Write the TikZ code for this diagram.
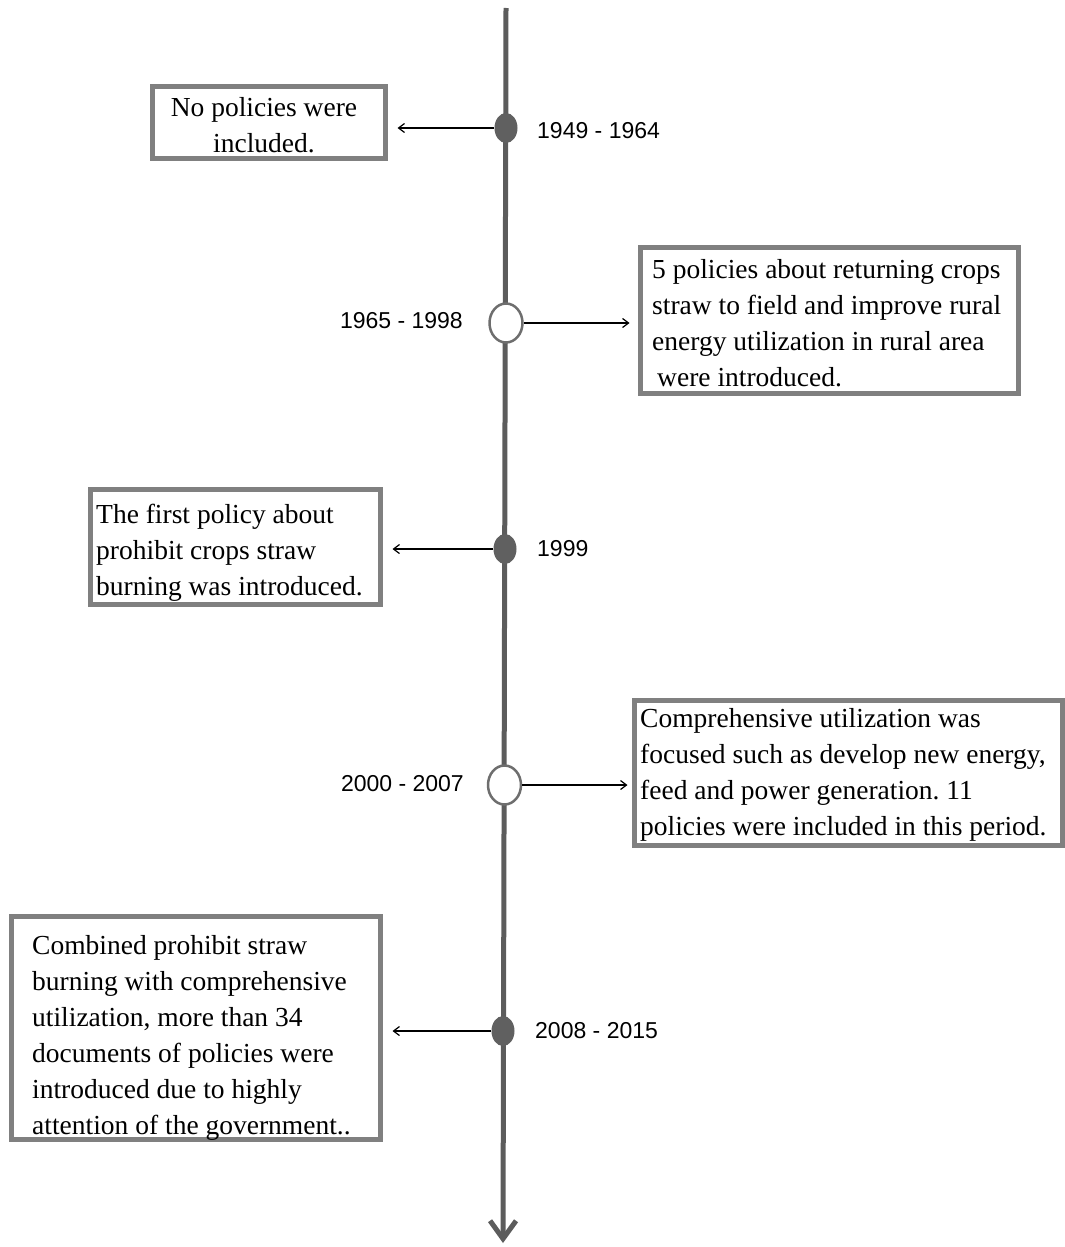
\documentclass[tikz,border=0pt]{standalone}
\usepackage{fontspec}
\setmainfont{Liberation Serif}
\newfontfamily\labfont{Liberation Sans}
\usetikzlibrary{arrows.meta,shapes.geometric}
\definecolor{axisgray}{RGB}{92,92,92}
\definecolor{dotgray}{RGB}{96,96,96}
\definecolor{ringgray}{RGB}{110,110,110}
\definecolor{boxgray}{RGB}{128,128,128}
\frenchspacing
\begin{document}
\begin{tikzpicture}[x=1pt,y=-1pt,
  boxframe/.style={draw=boxgray, line width=5pt, fill=white, rectangle, inner sep=0pt},
  boxtext/.style={inner sep=0pt, font=\fontsize{27.5}{36}\selectfont},
  yearlab/.style={inner sep=0pt, font=\labfont\fontsize{23}{26}\selectfont},
  fulldot/.style={ellipse, fill=dotgray, inner sep=0pt, minimum width=23pt, minimum height=30pt},
  opendot/.style={ellipse, draw=ringgray, line width=2.5pt, fill=white, inner sep=0pt, minimum width=33pt, minimum height=39pt},
  pointer/.style={black, line width=1.2pt, -{Straight Barb[length=6pt,width=9pt]}}
]
\useasboundingbox (0,0) rectangle (1065,1247);
% timeline
\coordinate (top) at (506,8);
\coordinate (bot) at (503,1243);
\draw[axisgray, line width=5pt, -{Straight Barb[length=18pt,width=26pt]}] (top) -- (bot);
% boxes
\node[boxframe, minimum width=233pt, minimum height=72pt] (b1) at (268.5,122) {};
\node[boxframe, minimum width=378pt, minimum height=146pt] (b2) at (829,320) {};
\node[boxframe, minimum width=290pt, minimum height=115pt] (b3) at (235,546.5) {};
\node[boxframe, minimum width=428pt, minimum height=145pt] (b4) at (848,772.5) {};
\node[boxframe, minimum width=369pt, minimum height=223pt] (b5) at (195.5,1027.5) {};
% texts
\node[boxtext, align=center] (t1) at (264,125) {No policies were\\included.};
\node[boxtext, align=left, anchor=west] (t2) at (652,323) {5 policies about returning crops\\straw to field and improve rural\\energy utilization in rural area\\\hspace*{5pt}were introduced.};
\node[boxtext, align=left, anchor=west] (t3) at (96,553) {The first policy about\\prohibit crops straw\\burning was introduced.};
\node[boxtext, align=left, anchor=west] (t4) at (640,775) {Comprehensive utilization was\\focused such as develop new energy,\\feed and power generation. 11\\policies were included in this period.};
\node[boxtext, align=left, anchor=west] (t5) at (32,1038) {Combined prohibit straw\\burning with comprehensive\\utilization, more than 34\\documents of policies were\\introduced due to highly\\attention of the government..};
% markers
\node[fulldot] (m1) at (506,128) {};
\node[opendot] (m2) at (506,323) {};
\node[fulldot] (m3) at (505,549) {};
\node[opendot] (m4) at (504.5,785) {};
\node[fulldot] (m5) at (503,1031) {};
% year labels
\node[yearlab, anchor=west] (y1) at (537,131) {1949 - 1964};
\node[yearlab, anchor=east] (y2) at (463,321) {1965 - 1998};
\node[yearlab, anchor=west] (y3) at (537,549) {1999};
\node[yearlab, anchor=east] (y4) at (464,784) {2000 - 2007};
\node[yearlab, anchor=west] (y5) at (535,1031) {2008 - 2015};
% pointers
\draw[pointer, shorten >=10pt] (m1.west) -- (b1.east |- m1.west);
\draw[pointer, shorten >=8pt] (m2.east) -- (b2.west |- m2.east);
\draw[pointer, shorten >=10pt] (m3.west) -- (b3.east |- m3.west);
\draw[pointer, shorten >=4pt] (m4.east) -- (b4.west |- m4.east);
\draw[pointer, shorten >=10pt] (m5.west) -- (b5.east |- m5.west);
\end{tikzpicture}
\end{document}
